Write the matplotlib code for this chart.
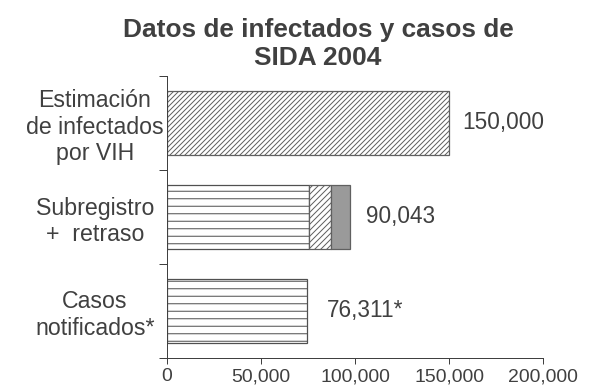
import matplotlib
matplotlib.use("Agg")
import matplotlib.pyplot as plt
from matplotlib.ticker import FixedLocator

DPI = 90
TXT = "#404040"

plt.rcParams['font.family'] = ['Liberation Sans', 'DejaVu Sans']
plt.rcParams['hatch.linewidth'] = 0.8

title = "Datos de infectados y casos de\nSIDA 2004"
categories = ["Estimación\nde infectados\npor VIH", "Subregistro\n+  retraso", "Casos\nnotificados*"]
# top bar
estimado = [150000, 0, 0]
# stacked segments
notificados = [0, 75700, 74500]
subregistro = [0, 11500, 0]
retraso = [0, 10100, 0]
value_labels = ["150,000", "90,043", "76,311*"]
label_offsets = [11, 13, 16]   # points to the right of bar end
xticks = [0, 50000, 100000, 150000, 200000]
xtick_labels = ["0", "50,000", "100,000", "150,000", "200,000"]

fig = plt.figure(figsize=(597 / DPI, 385 / DPI), dpi=DPI)
ax = fig.add_axes([167 / 597, 1 - 358 / 385, (543 - 167) / 597, (358 - 76) / 385])

y = list(range(len(categories)))
h = 0.69
edge = "#606060"

ax.barh(y[0], estimado[0], height=h, color="white", edgecolor=edge, hatch="//////", lw=1)
ax.barh(y[1:], notificados[1:], height=h, color="white", edgecolor="#505050", hatch="--", lw=1)
ax.barh(y[1], subregistro[1], left=notificados[1], height=h, color="white",
        edgecolor=edge, hatch="/////", lw=1)
ax.barh(y[1], retraso[1], left=notificados[1] + subregistro[1], height=h,
        color="#9a9a9a", edgecolor=edge, lw=1)

totals = [estimado[i] + notificados[i] + subregistro[i] + retraso[i] for i in y]
for i, lab in enumerate(value_labels):
    ax.annotate(lab, (totals[i], y[i]), xytext=(label_offsets[i], 0),
                textcoords="offset points", va="center", ha="left",
                fontsize=18, color=TXT)

ax.set_xlim(0, 200000)
ax.set_ylim(len(categories) - 0.5, -0.5)
ax.set_xticks(xticks)
ax.set_xticklabels(xtick_labels, fontsize=15.5, color=TXT)
ax.tick_params(axis="x", length=5, pad=3, color="#404040")

# ticks between categories, labels at centres
ax.yaxis.set_major_locator(FixedLocator([-0.5, 0.5, 1.5, 2.5]))
ax.yaxis.set_major_formatter(plt.NullFormatter())
ax.yaxis.set_minor_locator(FixedLocator(y))
ax.set_yticklabels(categories, minor=True, fontsize=18.5, color=TXT,
                   ha="center", multialignment="center")
ax.tick_params(axis="y", which="major", length=6.4, color="#404040")
ax.tick_params(axis="y", which="minor", length=0, pad=57.6)

for s in ["top", "right"]:
    ax.spines[s].set_visible(False)
for s in ["left", "bottom"]:
    ax.spines[s].set_color("#404040")

fig.text(318 / 597, 1 - 44 / 385, title, ha="center", va="center",
         fontsize=21, fontweight="bold", color=TXT, linespacing=1.25)

fig.savefig("out.png", dpi=DPI)
